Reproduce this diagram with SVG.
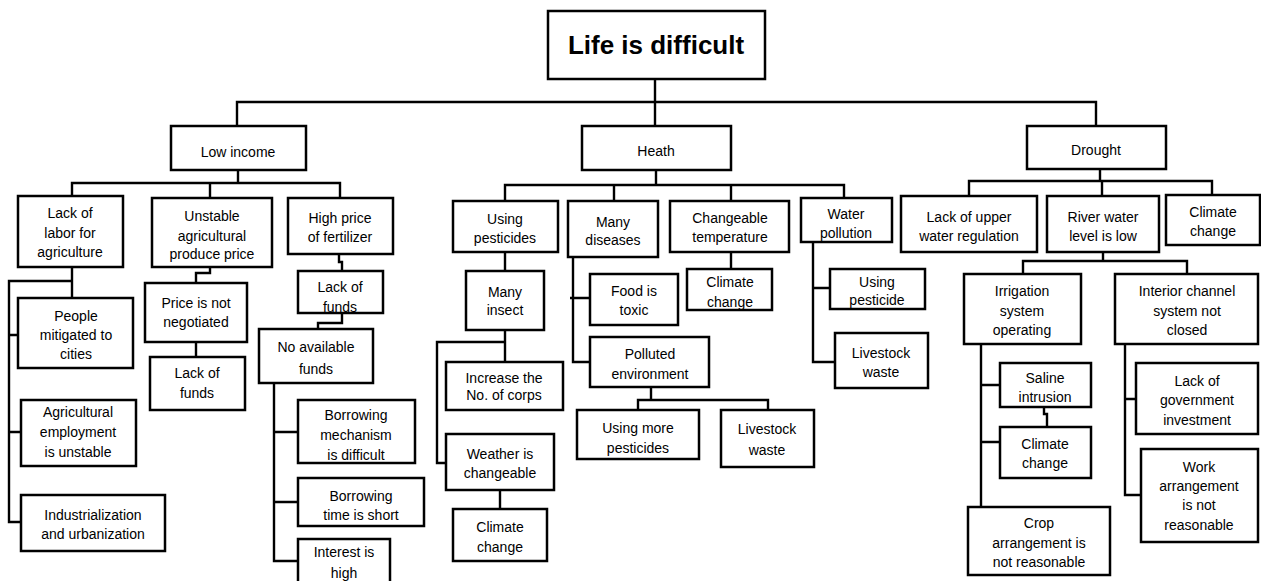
<svg xmlns="http://www.w3.org/2000/svg" width="1261" height="581" viewBox="0 0 1261 581">
<style>
  .box { fill: #fff; stroke: #000; stroke-width: 2.5; }
  .ln { fill: none; stroke: #000; stroke-width: 2.4; stroke-linejoin: miter; }
  text { font-family: "Liberation Sans", Arial, sans-serif; font-size: 14px; text-anchor: middle; fill: #000; }
  .title { font-size: 26px; font-weight: bold; }
</style>
<rect width="1261" height="581" fill="#fff"/>

<!-- connectors -->
<g id="connectors">
  <!-- root to main causes -->
  <path class="ln" d="M655 79 V126 M237 126 V102 H1096 V126"/>
  <!-- Low income branch -->
  <path class="ln" d="M238 170 V183 M72 196 V183 H340 V198 M210 183 V198"/>
  <path class="ln" d="M72 267 V298 M72 281 H9 V522 H21 M9 335 H18 M9 432 H21"/>
  <path class="ln" d="M210 267 V273 H196 V283 M196 342 V357"/>
  <path class="ln" d="M339 254 V262 H342 V271 M342 313 V323 H318 V329"/>
  <path class="ln" d="M274 383 V561 H298 M274 432 H298 M274 502 H298"/>
  <!-- Heath branch -->
  <path class="ln" d="M656 170 V185 M505 201 V185 H844 V198 M614 185 V201 M731 185 V201"/>
  <path class="ln" d="M505 252 V271 M505 330 V362 M505 342 H437 V463 H446 M500 490 V509"/>
  <path class="ln" d="M573 257 V362 H590 M570 298 H590"/>
  <path class="ln" d="M651 387 V400 M638 410 V400 H768 V410"/>
  <path class="ln" d="M731 252 V269"/>
  <path class="ln" d="M813 242 V362 H835 M813 288 H830"/>
  <!-- Drought branch -->
  <path class="ln" d="M1100 169 V181 M969 196 V181 H1212 V195 M1102 181 V196"/>
  <path class="ln" d="M1103 252 V261 M1023 274 V261 H1187 V274"/>
  <path class="ln" d="M981 344 V507 M981 385 H1000 M981 442 H1000 M1044 407 V414 H1047 V427"/>
  <path class="ln" d="M1125 344 V495 H1141 M1125 399 H1136"/>
</g>

<!-- root -->
<g id="life-is-difficult">
  <rect class="box" x="548" y="11" width="217" height="68"/>
  <text class="title" x="656" y="54">Life is difficult</text>
</g>

<!-- main causes -->
<g id="low-income">
  <rect class="box" x="171" y="126" width="135" height="44"/>
  <text x="238" y="157">Low income</text>
</g>
<g id="heath">
  <rect class="box" x="582" y="126" width="149" height="44"/>
  <text x="656" y="156">Heath</text>
</g>
<g id="drought">
  <rect class="box" x="1027" y="126" width="139" height="43"/>
  <text x="1096" y="155">Drought</text>
</g>

<!-- Low income causes -->
<g id="lack-of-labor">
  <rect class="box" x="18" y="196" width="105" height="71"/>
  <text x="70" y="218">Lack of</text>
  <text x="70" y="238">labor for</text>
  <text x="70" y="257">agriculture</text>
</g>
<g id="people-migrated">
  <rect class="box" x="18" y="298" width="115" height="70"/>
  <text x="76" y="321">People</text>
  <text x="76" y="340">mitigated to</text>
  <text x="76" y="359">cities</text>
</g>
<g id="agri-employment">
  <rect class="box" x="21" y="400" width="115" height="66"/>
  <text x="78" y="417">Agricultural</text>
  <text x="78" y="437">employment</text>
  <text x="78" y="457">is unstable</text>
</g>
<g id="industrialization">
  <rect class="box" x="21" y="495" width="144" height="56"/>
  <text x="93" y="520">Industrialization</text>
  <text x="93" y="539">and urbanization</text>
</g>
<g id="unstable-price">
  <rect class="box" x="152" y="198" width="120" height="69"/>
  <text x="212" y="221">Unstable</text>
  <text x="212" y="241">agricultural</text>
  <text x="212" y="259">produce price</text>
</g>
<g id="price-not-negotiated">
  <rect class="box" x="145" y="283" width="102" height="59"/>
  <text x="196" y="308">Price is not</text>
  <text x="196" y="327">negotiated</text>
</g>
<g id="lack-of-funds-1">
  <rect class="box" x="150" y="357" width="95" height="53"/>
  <text x="197" y="378">Lack of</text>
  <text x="197" y="398">funds</text>
</g>
<g id="high-price-fertilizer">
  <rect class="box" x="288" y="198" width="105" height="56"/>
  <text x="340" y="223">High price</text>
  <text x="340" y="242">of fertilizer</text>
</g>
<g id="lack-of-funds-2">
  <rect class="box" x="298" y="271" width="85" height="42"/>
  <text x="340" y="292">Lack of</text>
  <text x="340" y="312">funds</text>
</g>
<g id="no-available-funds">
  <rect class="box" x="259" y="329" width="114" height="54"/>
  <text x="316" y="352">No available</text>
  <text x="316" y="374">funds</text>
</g>
<g id="borrowing-mechanism">
  <rect class="box" x="298" y="400" width="117" height="63"/>
  <text x="356" y="420">Borrowing</text>
  <text x="356" y="440">mechanism</text>
  <text x="356" y="460">is difficult</text>
</g>
<g id="borrowing-time">
  <rect class="box" x="298" y="478" width="126" height="48"/>
  <text x="361" y="501">Borrowing</text>
  <text x="361" y="520">time is short</text>
</g>
<g id="interest-high">
  <rect class="box" x="298" y="539" width="92" height="52"/>
  <text x="344" y="557">Interest is</text>
  <text x="344" y="578">high</text>
</g>

<!-- Heath causes -->
<g id="using-pesticides">
  <rect class="box" x="453" y="201" width="105" height="51"/>
  <text x="505" y="224">Using</text>
  <text x="505" y="243">pesticides</text>
</g>
<g id="many-insect">
  <rect class="box" x="466" y="271" width="78" height="59"/>
  <text x="505" y="297">Many</text>
  <text x="505" y="315">insect</text>
</g>
<g id="increase-corps">
  <rect class="box" x="446" y="362" width="117" height="48"/>
  <text x="504" y="383">Increase the</text>
  <text x="504" y="400">No. of corps</text>
</g>
<g id="weather-changeable">
  <rect class="box" x="446" y="434" width="108" height="56"/>
  <text x="500" y="459">Weather is</text>
  <text x="500" y="478">changeable</text>
</g>
<g id="climate-change-1">
  <rect class="box" x="453" y="509" width="94" height="52"/>
  <text x="500" y="532">Climate</text>
  <text x="500" y="552">change</text>
</g>
<g id="many-diseases">
  <rect class="box" x="568" y="201" width="90" height="56"/>
  <text x="613" y="227">Many</text>
  <text x="613" y="245">diseases</text>
</g>
<g id="food-toxic">
  <rect class="box" x="590" y="274" width="88" height="51"/>
  <text x="634" y="296">Food is</text>
  <text x="634" y="315">toxic</text>
</g>
<g id="polluted-environment">
  <rect class="box" x="590" y="337" width="119" height="50"/>
  <text x="650" y="359">Polluted</text>
  <text x="650" y="379">environment</text>
</g>
<g id="using-more-pesticides">
  <rect class="box" x="577" y="410" width="122" height="49"/>
  <text x="638" y="433">Using more</text>
  <text x="638" y="453">pesticides</text>
</g>
<g id="livestock-waste-1">
  <rect class="box" x="721" y="410" width="93" height="57"/>
  <text x="767" y="434">Livestock</text>
  <text x="767" y="455">waste</text>
</g>
<g id="changeable-temperature">
  <rect class="box" x="670" y="201" width="119" height="51"/>
  <text x="730" y="223">Changeable</text>
  <text x="730" y="242">temperature</text>
</g>
<g id="climate-change-2">
  <rect class="box" x="687" y="269" width="85" height="41"/>
  <text x="730" y="287">Climate</text>
  <text x="730" y="307">change</text>
</g>
<g id="water-pollution">
  <rect class="box" x="801" y="198" width="91" height="44"/>
  <text x="846" y="219">Water</text>
  <text x="846" y="238">pollution</text>
</g>
<g id="using-pesticide">
  <rect class="box" x="830" y="269" width="95" height="40"/>
  <text x="877" y="287">Using</text>
  <text x="877" y="305">pesticide</text>
</g>
<g id="livestock-waste-2">
  <rect class="box" x="835" y="333" width="93" height="55"/>
  <text x="881" y="358">Livestock</text>
  <text x="881" y="377">waste</text>
</g>

<!-- Drought causes -->
<g id="lack-upper-regulation">
  <rect class="box" x="901" y="196" width="136" height="56"/>
  <text x="969" y="222">Lack of upper</text>
  <text x="969" y="241">water regulation</text>
</g>
<g id="river-water-low">
  <rect class="box" x="1047" y="196" width="112" height="56"/>
  <text x="1103" y="222">River water</text>
  <text x="1103" y="241">level is low</text>
</g>
<g id="climate-change-3">
  <rect class="box" x="1166" y="195" width="94" height="50"/>
  <text x="1213" y="217">Climate</text>
  <text x="1213" y="236">change</text>
</g>
<g id="irrigation-system">
  <rect class="box" x="964" y="274" width="117" height="70"/>
  <text x="1022" y="296">Irrigation</text>
  <text x="1022" y="316">system</text>
  <text x="1022" y="335">operating</text>
</g>
<g id="saline-intrusion">
  <rect class="box" x="1000" y="363" width="91" height="44"/>
  <text x="1045" y="383">Saline</text>
  <text x="1045" y="402">intrusion</text>
</g>
<g id="climate-change-4">
  <rect class="box" x="1000" y="427" width="91" height="51"/>
  <text x="1045" y="449">Climate</text>
  <text x="1045" y="468">change</text>
</g>
<g id="crop-arrangement">
  <rect class="box" x="968" y="507" width="142" height="68"/>
  <text x="1039" y="528">Crop</text>
  <text x="1039" y="548">arrangement is</text>
  <text x="1039" y="567">not reasonable</text>
</g>
<g id="interior-channel">
  <rect class="box" x="1115" y="274" width="143" height="70"/>
  <text x="1187" y="296">Interior channel</text>
  <text x="1187" y="316">system not</text>
  <text x="1187" y="335">closed</text>
</g>
<g id="lack-gov-investment">
  <rect class="box" x="1136" y="363" width="122" height="71"/>
  <text x="1197" y="386">Lack of</text>
  <text x="1197" y="405">government</text>
  <text x="1197" y="425">investment</text>
</g>
<g id="work-arrangement">
  <rect class="box" x="1141" y="449" width="117" height="93"/>
  <text x="1199" y="472">Work</text>
  <text x="1199" y="491">arrangement</text>
  <text x="1199" y="510">is not</text>
  <text x="1199" y="530">reasonable</text>
</g>
</svg>
